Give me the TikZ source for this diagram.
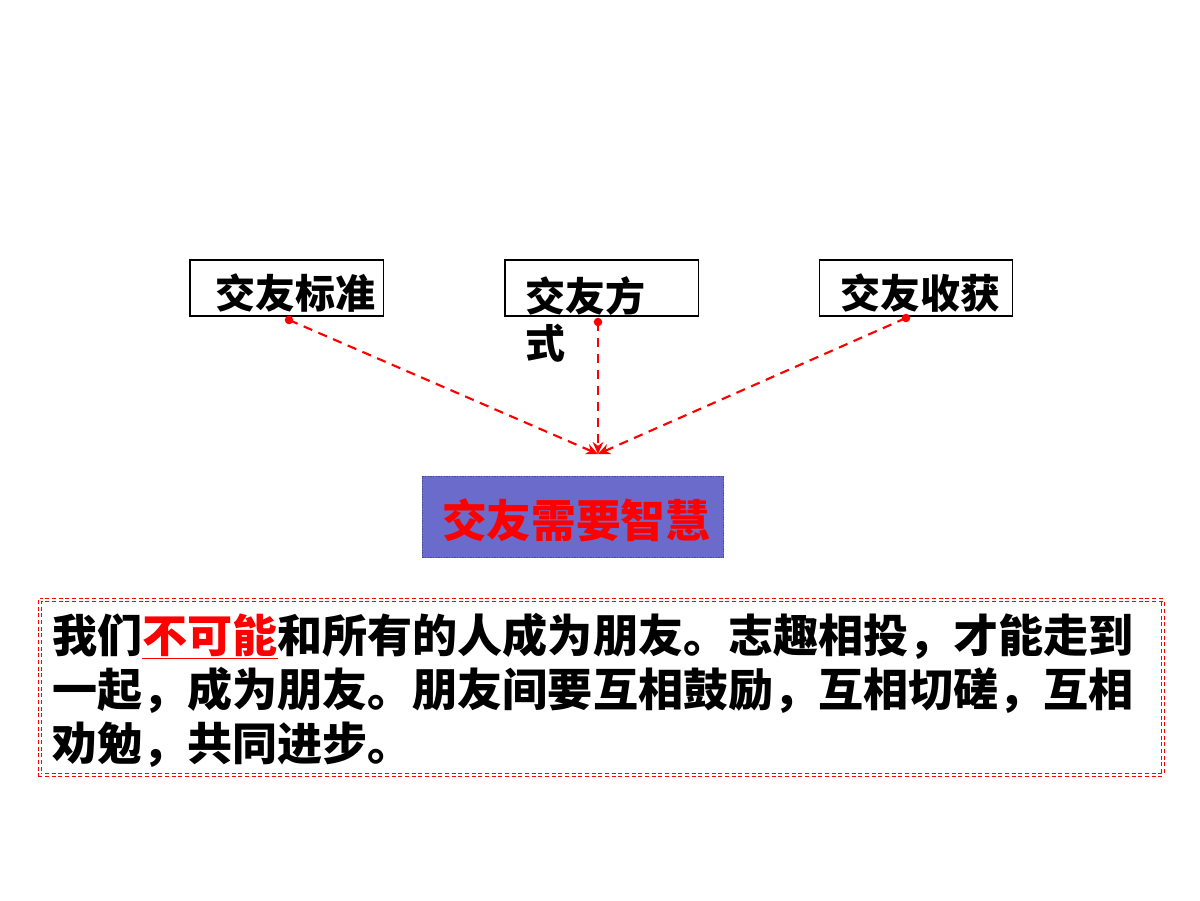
\documentclass[tikz,border=0pt]{standalone}
\usepackage{fontspec}
\newfontfamily\cjk{Noto Sans CJK SC}
\usetikzlibrary{arrows.meta}
\definecolor{purp}{HTML}{6B6BCC}
\definecolor{rd}{HTML}{FF0000}
\tikzset{
 topbox/.style={draw=black,line width=1pt,minimum width=145pt,minimum height=42pt,inner sep=0pt},
 toptext/.style={font=\cjk\bfseries\fontsize{30}{36}\selectfont,anchor=west,inner sep=0pt},
 link/.style={rd,line width=1.6pt,dash pattern=on 7pt off 5pt,-{Stealth[length=9pt,width=8pt]}},
 body/.style={font=\cjk\bfseries\fontsize{33.8}{40}\selectfont,anchor=west,inner sep=0pt}
}
\begin{document}
\begin{tikzpicture}[x=0.75pt,y=-0.75pt]
\useasboundingbox (0,0) rectangle (1200,900);
\node[topbox] (b1) at (286.5,288) {};
\node[topbox] (b2) at (601.5,288) {};
\node[topbox] (b3) at (916,288) {};
\node[toptext] (t1) at (215,293) {交友标准};
\node[toptext] (t2a) at (525,296) {交友方};
\node[toptext] (t2b) at (525,343) {式};
\node[toptext] (t3) at (840,293) {交友收获};
\node[fill=purp,draw=purp!70!black,densely dotted,line width=1pt,minimum width=226pt,minimum height=61pt,inner sep=0pt] (mid) at (573,517) {};
\node[font=\cjk\bfseries\fontsize{33.5}{40}\selectfont,text=rd,anchor=west,inner sep=0pt] (midt) at (442,520) {交友需要智慧};
\coordinate (p1) at (289,320);
\coordinate (p2) at (598,322);
\coordinate (p3) at (906,318);
\coordinate (tip) at (598,454);
\foreach \p in {p1,p2,p3}{\fill[rd] (\p) circle (3.2pt);}
\draw[link] (p1) -- (tip);
\draw[link] (p2) -- (tip);
\draw[link] (p3) -- (tip);
\draw[rd,line width=1pt,dash pattern=on 3pt off 2pt,double=white,double distance=1.2pt] (40,600) rectangle (1163,775);
\node[body] (l1) at (52,636) {我们\textcolor{rd}{\underline{不可能}}和所有的人成为朋友。志趣相投，才能走到};
\node[body] (l2) at (52,690) {一起，成为朋友。朋友间要互相鼓励，互相切磋，互相};
\node[body] (l3) at (52,745) {劝勉，共同进步。};
\end{tikzpicture}
\end{document}
